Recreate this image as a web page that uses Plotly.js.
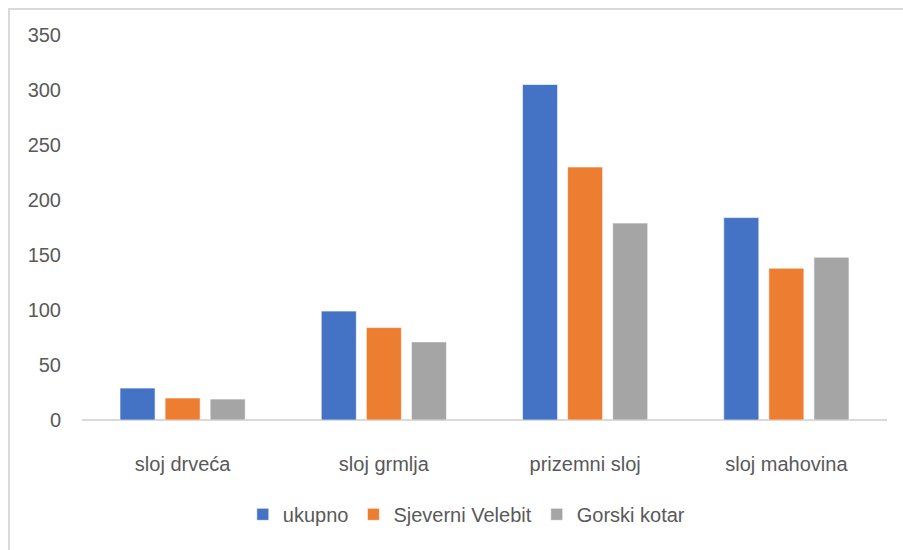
<!DOCTYPE html>
<html>
<head>
<meta charset="utf-8">
<script src="https://cdn.plot.ly/plotly-3.0.1.min.js"></script>
<style>
  html, body { margin: 0; padding: 0; background: #fff; }
  #frame { position: absolute; left: 8px; top: 8px; width: 900px; height: 545px;
           border-left: 2px solid #d9d9d9; border-top: 2px solid #d9d9d9; pointer-events: none; }
  #chart { position: absolute; left: 0; top: 0; width: 903px; height: 550px; }
</style>
</head>
<body>
<div id="chart"></div>
<div id="frame"></div>
<script>
const categories = ["sloj drveća", "sloj grmlja", "prizemni sloj", "sloj mahovina"];
const seriesNames = ["ukupno", "Sjeverni Velebit", "Gorski kotar"];
const ukupno = [29, 99, 305, 184];
const sjeverniVelebit = [20, 84, 230, 138];
const gorskiKotar = [19, 71, 179, 148];
const colors = ["#4472C4", "#ED7D31", "#A5A5A5"];
const yTicks = [0, 50, 100, 150, 200, 250, 300, 350];

const font = { family: "Liberation Sans, Arial, sans-serif", size: 20, color: "#595959" };
const values = [ukupno, sjeverniVelebit, gorskiKotar];
const traces = values.map((v, i) => ({
  type: "bar",
  name: seriesNames[i],
  x: categories,
  y: v,
  marker: { color: colors[i], line: { color: "rgba(255,255,255,0.6)", width: 1 } },
  hoverinfo: "none"
}));

const layout = {
  width: 903, height: 550,
  margin: { l: 82, r: 16, t: 35, b: 130 },
  paper_bgcolor: "#fff", plot_bgcolor: "#fff",
  font: font,
  barmode: "group",
  bargap: 0.328,
  bargroupgap: 0.222,
  showlegend: true,
  legend: { orientation: "h", x: 0.478, xanchor: "center", y: -0.245, yanchor: "middle",
            font: font, itemwidth: 30, traceorder: "normal" },
  xaxis: { showgrid: false, showline: false, zeroline: false, ticks: "",
           ticklabelstandoff: 30, tickfont: font, fixedrange: true },
  yaxis: { range: [0, 350], tickvals: yTicks, ticktext: yTicks.map(String),
           showgrid: false, showline: false, zeroline: true, zerolinecolor: "#d9d9d9", zerolinewidth: 2,
           ticks: "", ticklabelstandoff: 20, tickfont: font, fixedrange: true }
};

Plotly.newPlot("chart", traces, layout, { displayModeBar: false, staticPlot: true });
</script>
</body>
</html>
